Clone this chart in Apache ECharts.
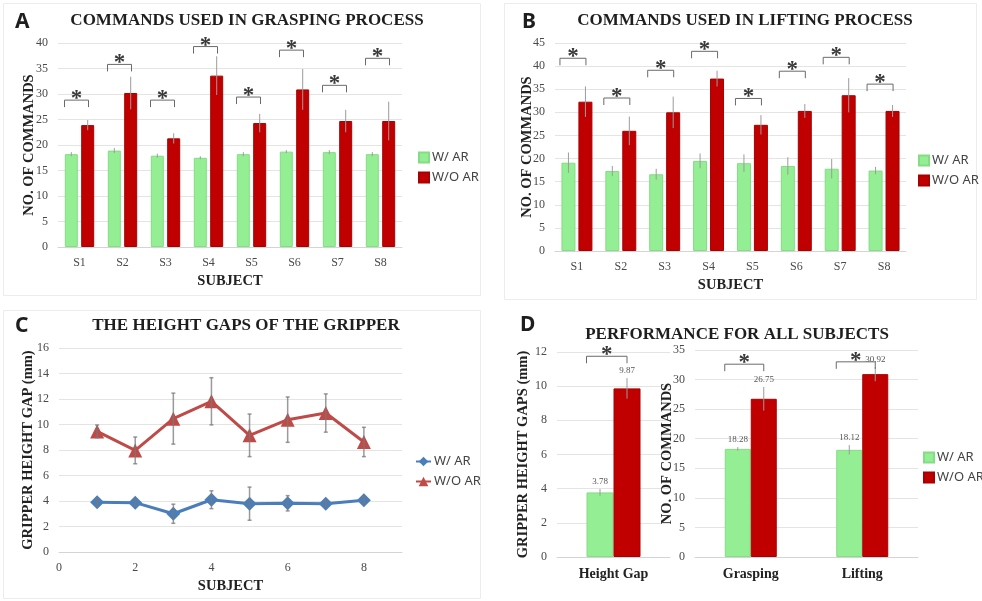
<!DOCTYPE html>
<html>
<head>
<meta charset="utf-8">
<title>AR commands and height gaps</title>
<script src="https://cdn.jsdelivr.net/npm/echarts@6.0.0/dist/echarts.min.js"></script>
<style>
  html, body { margin: 0; padding: 0; background: #fff; }
  #chart { width: 982px; height: 601px; }
</style>
</head>
<body>
<div id="chart"></div>
<script>
// ---- data ----
const subjects = ['S1', 'S2', 'S3', 'S4', 'S5', 'S6', 'S7', 'S8'];

// A: grasping
const graspWith = [18.2, 18.9, 17.9, 17.5, 18.2, 18.7, 18.6, 18.2];
const graspWithErr = [0.4, 0.5, 0.4, 0.3, 0.4, 0.3, 0.4, 0.4];
const graspWithout = [23.9, 30.2, 21.3, 33.6, 24.3, 30.9, 24.7, 24.7];
const graspWithoutErr = [1.0, 3.2, 1.0, 3.8, 1.8, 4.0, 2.2, 3.8];
const graspStar = [28.8, 35.8, 28.8, 39.3, 29.4, 38.6, 31.7, 37.0];

// B: lifting
const liftWith = [19.1, 17.3, 16.6, 19.5, 19.0, 18.4, 17.8, 17.4];
const liftWithErr = [2.2, 1.1, 1.2, 1.6, 1.9, 1.9, 2.1, 0.8];
const liftWithout = [32.3, 26.0, 30.0, 37.3, 27.3, 30.3, 33.7, 30.3];
const liftWithoutErr = [3.3, 3.1, 3.4, 1.7, 2.1, 1.5, 3.7, 1.3];
const liftStar = [41.7, 33.1, 39.1, 43.2, 33.0, 38.9, 41.9, 36.1];

// C: height gaps per subject
const gapSubject = [1, 2, 3, 4, 5, 6, 7, 8];
const gapWith = [3.9, 3.87, 3.0, 4.1, 3.79, 3.82, 3.79, 4.05];
const gapWithErr = [0.3, 0.25, 0.75, 0.7, 1.3, 0.6, 0.25, 0.3];
const gapWithout = [9.46, 7.97, 10.46, 11.82, 9.15, 10.38, 10.9, 8.63];
const gapWithoutErr = [0.5, 1.05, 2.0, 1.85, 1.67, 1.78, 1.5, 1.15];

// D: all subjects
const allGapCats = ['Height Gap'];
const allGapWith = [3.78];
const allGapWithErr = [0.2];
const allGapWithout = [9.87];
const allGapWithoutErr = [0.6];
const allGapStar = [11.75];
const allCmdCats = ['Grasping', 'Lifting'];
const allCmdWith = [18.28, 18.12];
const allCmdWithErr = [0.3, 0.8];
const allCmdWithout = [26.75, 30.92];
const allCmdWithoutErr = [2.0, 1.2];
const allCmdStar = [32.6, 33.0];

// ---- styles ----
const SERIF = '"Liberation Serif", "DejaVu Serif", serif';
const SANS = '"Noto Sans", "Liberation Sans", sans-serif';
const GREEN = '#94ee94';
const RED = '#c00000';
const BLUE_LINE = '#4a7ebb';
const RED_LINE = '#be4b48';
const GRID_LINE = '#e4e4e4';
const TICK_TEXT = '#4a4a4a';

var myChart = echarts.init(document.getElementById('chart'));

// error bar drawn over a bar / point, dx = pixel offset from category centre
function errSeries(idx, xs, vals, errs, dx, withLabel, caps) {
  return {
    type: 'custom',
    xAxisIndex: idx,
    yAxisIndex: idx,
    silent: true,
    z: 5,
    data: vals.map(function (v, i) { return [xs[i], v, errs[i]]; }),
    renderItem: function (params, api) {
      var v = api.value(1), e = api.value(2);
      var top = api.coord([api.value(0), v + e]);
      var bot = api.coord([api.value(0), v - e]);
      var x = top[0] + dx;
      var kids = [{
        type: 'line',
        shape: { x1: x, y1: top[1], x2: x, y2: bot[1] },
        style: { stroke: caps ? 'rgba(120,120,120,0.75)' : '#9c9c9c', lineWidth: caps ? 1.5 : 1 }
      }];
      if (caps) {
        kids.push({ type: 'line', shape: { x1: x - 2, y1: top[1], x2: x + 2, y2: top[1] }, style: { stroke: 'rgba(120,120,120,0.75)', lineWidth: 1.5 } });
        kids.push({ type: 'line', shape: { x1: x - 2, y1: bot[1], x2: x + 2, y2: bot[1] }, style: { stroke: 'rgba(120,120,120,0.75)', lineWidth: 1.5 } });
      }
      if (withLabel) {
        kids.push({
          type: 'text',
          style: {
            text: v.toFixed(2), x: x, y: top[1] - 3,
            textAlign: 'center', textVerticalAlign: 'bottom',
            font: '9px ' + SERIF, fill: '#555'
          }
        });
      }
      return { type: 'group', children: kids };
    }
  };
}

// significance bracket with a star, from green bar left edge to red bar centre
function bracketSeries(idx, heights, left, right) {
  return {
    type: 'custom',
    xAxisIndex: idx,
    yAxisIndex: idx,
    silent: true,
    z: 6,
    data: heights.map(function (h, i) { return [i, h]; }),
    renderItem: function (params, api) {
      var p = api.coord([api.value(0), api.value(1)]);
      var x1 = p[0] + left, x2 = p[0] + right, y = p[1];
      return {
        type: 'group',
        children: [{
          type: 'polyline',
          shape: { points: [[x1, y + 7], [x1, y], [x2, y], [x2, y + 7]] },
          style: { stroke: '#6a6a6a', fill: null, lineWidth: 1 }
        }, {
          type: 'text',
          style: {
            text: '*', x: (x1 + x2) / 2, y: y - 1,
            textAlign: 'center', textVerticalAlign: 'middle',
            font: 'bold 23px ' + SERIF, fill: '#3a3a3a'
          }
        }]
      };
    }
  };
}

function barSeries(name, idx, data, color, bw, gap) {
  return {
    name: name,
    type: 'bar',
    xAxisIndex: idx,
    yAxisIndex: idx,
    data: data,
    barWidth: bw,
    barGap: gap,
    itemStyle: { color: color, borderColor: color === GREEN ? '#84dc84' : '#a80000', borderWidth: 1 },
    silent: true
  };
}

function catAxis(idx, cats, name, nameGap, bold) {
  return {
    type: 'category',
    gridIndex: idx,
    data: cats,
    axisTick: { show: false },
    axisLine: { lineStyle: { color: '#d4d4d4' } },
    axisLabel: bold
      ? { fontFamily: SERIF, fontSize: 14, fontWeight: 'bold', color: '#222', margin: 10 }
      : { fontFamily: SERIF, fontSize: 12, color: TICK_TEXT, margin: 10 },
    name: name,
    nameLocation: 'middle',
    nameGap: nameGap,
    nameMoveOverlap: false,
    nameTextStyle: { fontFamily: SERIF, fontSize: 14.5, fontWeight: 'bold', color: '#222' }
  };
}

function valAxis(idx, max, interval, name, nameGap) {
  return {
    type: 'value',
    gridIndex: idx,
    min: 0,
    max: max,
    interval: interval,
    axisLine: { show: false },
    axisTick: { show: false },
    splitLine: { lineStyle: { color: GRID_LINE } },
    axisLabel: { fontFamily: SERIF, fontSize: 12, color: TICK_TEXT, margin: 10 },
    name: name,
    nameLocation: 'middle',
    nameRotate: 90,
    nameGap: nameGap,
    nameMoveOverlap: false,
    nameTextStyle: { fontFamily: SERIF, fontSize: 14.5, fontWeight: 'bold', color: '#222' }
  };
}

function legendBox(left, top, names, itemWidth, itemHeight, icon) {
  return {
    left: left,
    top: top,
    orient: 'vertical',
    data: names,
    icon: icon,
    itemWidth: itemWidth,
    itemHeight: itemHeight,
    itemGap: 7,
    selectedMode: false,
    formatter: function (n) { return n.replace('_C', ''); },
    textStyle: { fontFamily: SANS, fontSize: 13, color: '#444', padding: [0, 0, 0, -2] }
  };
}

function label(text, x, y, size, family, align) {
  return {
    type: 'text',
    x: x,
    y: y,
    silent: true,
    style: {
      text: text,
      font: 'bold ' + size + 'px ' + family,
      fill: '#1e1e1e',
      textAlign: align || 'center',
      textVerticalAlign: 'middle'
    }
  };
}

function frame(x, y, w, h) {
  return {
    type: 'rect',
    silent: true,
    z: -10,
    shape: { x: x, y: y, width: w, height: h },
    style: { fill: null, stroke: '#ececec', lineWidth: 1 }
  };
}

var option = {
  animation: false,
  backgroundColor: '#fff',
  graphic: [
    frame(3.5, 3.5, 477, 292),
    frame(504.5, 3.5, 472, 296),
    frame(3.5, 310.5, 477, 288),
    label('A', 15, 22, 21, SANS, 'left'),
    label('B', 522, 22, 21, SANS, 'left'),
    label('C', 15, 326, 21, SANS, 'left'),
    label('D', 520, 325, 21, SANS, 'left'),
    label('COMMANDS USED IN GRASPING PROCESS', 247, 21, 17, SERIF),
    label('COMMANDS USED IN LIFTING PROCESS', 745, 21, 17, SERIF),
    label('THE HEIGHT GAPS OF THE GRIPPER', 246, 326, 17, SERIF),
    label('PERFORMANCE FOR ALL SUBJECTS', 737, 335, 17, SERIF)
  ],
  legend: [
    legendBox(413, 146, ['W/ AR', 'W/O AR'], 10, 10, 'rect'),
    legendBox(913, 149, ['W/ AR', 'W/O AR'], 10, 10, 'rect'),
    legendBox(410, 450, ['W/ AR_C', 'W/O AR_C'], 15, 12),
    legendBox(918, 446, ['W/ AR', 'W/O AR'], 10, 10, 'rect')
  ],
  grid: [
    { left: 58, top: 43, width: 344, height: 204 },
    { left: 555, top: 43, width: 351, height: 208 },
    { left: 59, top: 348, width: 343, height: 204 },
    { left: 557, top: 352, width: 113, height: 205 },
    { left: 695, top: 350, width: 223, height: 207 }
  ],
  xAxis: [
    catAxis(0, subjects, 'SUBJECT', 27),
    catAxis(1, subjects, 'SUBJECT', 27),
    {
      type: 'value',
      gridIndex: 2,
      min: 0,
      max: 9,
      interval: 2,
      splitLine: { show: false },
      axisTick: { show: false },
      axisLine: { lineStyle: { color: '#d4d4d4' } },
      axisLabel: { fontFamily: SERIF, fontSize: 12, color: TICK_TEXT, margin: 10, showMaxLabel: false },
      name: 'SUBJECT',
      nameLocation: 'middle',
      nameGap: 27,
      nameMoveOverlap: false,
      nameTextStyle: { fontFamily: SERIF, fontSize: 14.5, fontWeight: 'bold', color: '#222' }
    },
    catAxis(3, allGapCats, '', 0, true),
    catAxis(4, allCmdCats, '', 0, true)
  ],
  yAxis: [
    valAxis(0, 40, 5, 'NO. OF COMMANDS', 21),
    valAxis(1, 45, 5, 'NO. OF COMMANDS', 20),
    valAxis(2, 16, 2, 'GRIPPER HEIGHT GAP (mm)', 23),
    valAxis(3, 12, 2, 'GRIPPER HEIGHT GAPS (mm)', 26),
    valAxis(4, 35, 5, 'NO. OF COMMANDS', 20)
  ],
  series: [
    // A
    barSeries('W/ AR', 0, graspWith, GREEN, 13, '26%'),
    barSeries('W/O AR', 0, graspWithout, RED, 13, '26%'),
    errSeries(0, [0, 1, 2, 3, 4, 5, 6, 7], graspWith, graspWithErr, -8.2, false, false),
    errSeries(0, [0, 1, 2, 3, 4, 5, 6, 7], graspWithout, graspWithoutErr, 8.2, false, false),
    bracketSeries(0, graspStar, -15, 9),
    // B
    barSeries('W/ AR', 1, liftWith, GREEN, 14, '21%'),
    barSeries('W/O AR', 1, liftWithout, RED, 14, '21%'),
    errSeries(1, [0, 1, 2, 3, 4, 5, 6, 7], liftWith, liftWithErr, -8.5, false, false),
    errSeries(1, [0, 1, 2, 3, 4, 5, 6, 7], liftWithout, liftWithoutErr, 8.5, false, false),
    bracketSeries(1, liftStar, -17, 9),
    // C
    errSeries(2, gapSubject, gapWith, gapWithErr, 0, false, true),
    errSeries(2, gapSubject, gapWithout, gapWithoutErr, 0, false, true),
    {
      name: 'W/ AR_C',
      type: 'line',
      xAxisIndex: 2,
      yAxisIndex: 2,
      data: gapSubject.map(function (x, i) { return [x, gapWith[i]]; }),
      symbol: 'diamond',
      symbolSize: 14,
      lineStyle: { color: BLUE_LINE, width: 3 },
      itemStyle: { color: BLUE_LINE },
      z: 3,
      silent: true
    },
    {
      name: 'W/O AR_C',
      type: 'line',
      xAxisIndex: 2,
      yAxisIndex: 2,
      data: gapSubject.map(function (x, i) { return [x, gapWithout[i]]; }),
      symbol: 'triangle',
      symbolSize: 14,
      lineStyle: { color: RED_LINE, width: 3 },
      itemStyle: { color: RED_LINE },
      z: 3,
      silent: true
    },
    // D left
    barSeries('W/ AR', 3, allGapWith, GREEN, 27, 0),
    barSeries('W/O AR', 3, allGapWithout, RED, 27, 0),
    errSeries(3, [0], allGapWith, allGapWithErr, -13.5, true, false),
    errSeries(3, [0], allGapWithout, allGapWithoutErr, 13.5, true, false),
    bracketSeries(3, allGapStar, -27, 13.5),
    // D right
    barSeries('W/ AR', 4, allCmdWith, GREEN, 26, 0),
    barSeries('W/O AR', 4, allCmdWithout, RED, 26, 0),
    errSeries(4, [0, 1], allCmdWith, allCmdWithErr, -13, true, false),
    errSeries(4, [0, 1], allCmdWithout, allCmdWithoutErr, 13, true, false),
    bracketSeries(4, allCmdStar, -26, 13)
  ]
};

myChart.setOption(option);
</script>
</body>
</html>
